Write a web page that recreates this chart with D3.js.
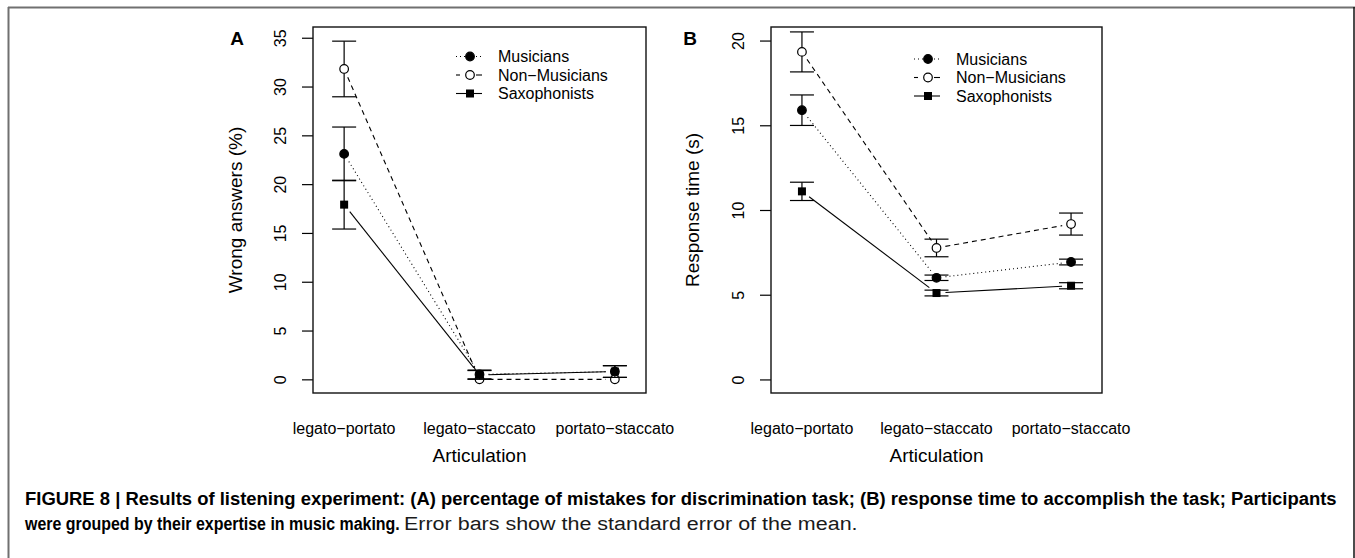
<!DOCTYPE html>
<html>
<head>
<meta charset="utf-8">
<script src="https://cdn.jsdelivr.net/npm/d3@7"></script>
<style>
  body { margin: 0; background: #fff; }
  svg { display: block; }
  text { font-family: "Liberation Sans", Arial, Helvetica, sans-serif; fill: #000; }
</style>
</head>
<body>
<svg id="chart" width="1355" height="558"></svg>
<script>
const categories = ["legato\u2212portato", "legato\u2212staccato", "portato\u2212staccato"]
const groups = ["Musicians", "Non\u2212Musicians", "Saxophonists"]

// panel A: wrong answers (%), mean and standard error
const wrongMusicians = [23.1, 0.5, 0.8]
const wrongMusiciansSE = [2.75, 0.45, 0.6]
const wrongNonMusicians = [31.8, 0, 0]
const wrongNonMusiciansSE = [2.85, 0, 0]
const wrongSaxophonists = [17.9, 0.45, 0.8]
const wrongSaxophonistsSE = [2.5, 0.45, 0.6]
const wrongTicks = [0, 5, 10, 15, 20, 25, 30, 35]

// panel B: response time (s), mean and standard error
const timeMusicians = [15.89, 6.0, 6.93]
const timeMusiciansSE = [0.9, 0.16, 0.17]
const timeNonMusicians = [19.33, 7.76, 9.17]
const timeNonMusiciansSE = [1.18, 0.52, 0.65]
const timeSaxophonists = [11.1, 5.1, 5.53]
const timeSaxophonistsSE = [0.54, 0.17, 0.18]
const timeTicks = [0, 5, 10, 15, 20]

const svg = d3.select("#chart")

// outer figure frame
svg.append("line").attr("x1", 8).attr("x2", 1355).attr("y1", 7.5).attr("y2", 7.5)
  .attr("stroke", "#707070").attr("stroke-width", 2)
svg.append("line").attr("x1", 8.5).attr("x2", 8.5).attr("y1", 7).attr("y2", 558)
  .attr("stroke", "#707070").attr("stroke-width", 2)
svg.append("line").attr("x1", 1354).attr("x2", 1354).attr("y1", 7).attr("y2", 558)
  .attr("stroke", "#111").attr("stroke-width", 1.5)

const styles = {
  "Musicians": { dash: "1,3", marker: "dot" },
  "Non\u2212Musicians": { dash: "5,4", marker: "open" },
  "Saxophonists": { dash: null, marker: "square" }
}

function marker(g, kind, cx, cy) {
  if (kind === "square") {
    g.append("rect").attr("x", cx - 4).attr("y", cy - 4).attr("width", 8).attr("height", 8)
      .attr("fill", "#000")
  } else {
    g.append("circle").attr("cx", cx).attr("cy", cy).attr("r", 4.3)
      .attr("fill", kind === "open" ? "#fff" : "#000")
      .attr("stroke", "#000").attr("stroke-width", 1.2)
  }
}

function panel(opts) {
  const { left, right, top, bottom, yDomain, ticks, series, letter, letterX, yTitle, yTitleX, legendY } = opts
  const g = svg.append("g")

  const x = d3.scaleLinear().domain([0.77, 3.23]).range([left, right])
  const y = d3.scaleLinear().domain(yDomain).range([bottom, top])

  // y axis
  const ax = g.append("g")
    .attr("transform", `translate(${left},0)`)
    .call(d3.axisLeft(y).tickValues(ticks).tickSize(11).tickSizeOuter(0))
  ax.select(".domain").remove()
  ax.selectAll("line").attr("stroke", "#000").attr("stroke-width", 1.2)
  ax.selectAll("text")
    .attr("transform", "rotate(-90)")
    .attr("x", 0).attr("y", -27).attr("dy", 0)
    .attr("text-anchor", "middle")
    .style("font-size", "16px")
    .style("font-family", "'Liberation Sans', Arial, sans-serif")

  // plot box
  g.append("rect").attr("x", left).attr("y", top)
    .attr("width", right - left).attr("height", bottom - top)
    .attr("fill", "none").attr("stroke", "#111").attr("stroke-width", 1.4)

  // category labels
  g.selectAll(".cat").data(categories).join("text")
    .attr("x", (d, i) => x(i + 1)).attr("y", 434)
    .attr("text-anchor", "middle").style("font-size", "16px")
    .text(d => d)

  g.append("text").attr("x", (left + right) / 2).attr("y", 462)
    .attr("text-anchor", "middle").style("font-size", "19px").text("Articulation")

  g.append("text")
    .attr("transform", `translate(${yTitleX},${(top + bottom) / 2}) rotate(-90)`)
    .attr("text-anchor", "middle").style("font-size", "19px").text(yTitle)

  g.append("text").attr("x", letterX).attr("y", 45)
    .attr("text-anchor", "middle").style("font-size", "19px").style("font-weight", "bold")
    .text(letter)

  // series
  series.forEach(s => {
    const st = styles[s.name]
    const pts = s.mean.map((m, i) => [x(i + 1), y(m)])
    const gap = 9
    for (let i = 0; i < pts.length - 1; i++) {
      const [x0, y0] = pts[i], [x1, y1] = pts[i + 1]
      const len = Math.hypot(x1 - x0, y1 - y0)
      const ux = (x1 - x0) / len, uy = (y1 - y0) / len
      g.append("line")
        .attr("x1", x0 + ux * gap).attr("y1", y0 + uy * gap)
        .attr("x2", x1 - ux * gap).attr("y2", y1 - uy * gap)
        .attr("stroke", "#000").attr("stroke-width", 1.1)
        .attr("stroke-dasharray", st.dash)
    }
    s.mean.forEach((m, i) => {
      const cx = x(i + 1)
      const lo = y(m - s.se[i]), hi = y(m + s.se[i])
      if (s.se[i] > 0) {
        g.append("line").attr("x1", cx).attr("x2", cx).attr("y1", lo).attr("y2", hi)
          .attr("stroke", "#000").attr("stroke-width", 1.2)
        ;[lo, hi].forEach(v => g.append("line")
          .attr("x1", cx - 12).attr("x2", cx + 12).attr("y1", v).attr("y2", v)
          .attr("stroke", "#000").attr("stroke-width", 1.2))
      }
    })
    s.mean.forEach((m, i) => marker(g, st.marker, x(i + 1), y(m)))
  })

  // legend
  const lx = left + 143
  groups.forEach((name, i) => {
    const st = styles[name]
    const ly = legendY + i * 18.5
    if (st.marker === "open") {
      g.append("line").attr("x1", lx).attr("x2", lx + 4).attr("y1", ly).attr("y2", ly)
        .attr("stroke", "#000").attr("stroke-width", 1.1)
      g.append("line").attr("x1", lx + 20).attr("x2", lx + 26).attr("y1", ly).attr("y2", ly)
        .attr("stroke", "#000").attr("stroke-width", 1.1)
    } else {
      g.append("line").attr("x1", lx).attr("x2", lx + 26).attr("y1", ly).attr("y2", ly)
        .attr("stroke", "#000").attr("stroke-width", 1.1)
        .attr("stroke-dasharray", st.dash)
    }
    marker(g, st.marker, lx + 14, ly)
    g.append("text").attr("x", lx + 42).attr("y", ly + 5.5)
      .style("font-size", "16px").text(name)
  })
}

panel({
  left: 313, right: 646, top: 27, bottom: 393,
  yDomain: [-1.4, 36.1], ticks: wrongTicks,
  letter: "A", letterX: 237, yTitle: "Wrong answers (%)", yTitleX: 242, legendY: 56.5,
  series: [
    { name: "Musicians", mean: wrongMusicians, se: wrongMusiciansSE },
    { name: "Non\u2212Musicians", mean: wrongNonMusicians, se: wrongNonMusiciansSE },
    { name: "Saxophonists", mean: wrongSaxophonists, se: wrongSaxophonistsSE }
  ]
})

panel({
  left: 771, right: 1102, top: 27, bottom: 393,
  yDomain: [-0.8, 20.8], ticks: timeTicks,
  letter: "B", letterX: 690, yTitle: "Response time (s)", yTitleX: 699, legendY: 59,
  series: [
    { name: "Musicians", mean: timeMusicians, se: timeMusiciansSE },
    { name: "Non\u2212Musicians", mean: timeNonMusicians, se: timeNonMusiciansSE },
    { name: "Saxophonists", mean: timeSaxophonists, se: timeSaxophonistsSE }
  ]
})

// caption: condensed look by squeezing each run horizontally to its width in the figure
function captionRun(str, x0, y0, width, bold) {
  const t = svg.append("text")
    .style("font-family", "'Liberation Sans', Arial, sans-serif")
    .style("font-size", "19px")
    .style("font-weight", bold ? "bold" : "normal")
    .style("fill", bold ? "#000" : "#1a1a1a")
    .text(str)
  const natural = t.node().getComputedTextLength()
  t.attr("transform", `translate(${x0},${y0}) scale(${width / natural},1)`)
}

captionRun("FIGURE 8 | Results of listening experiment: (A) percentage of mistakes for discrimination task; (B) response time to accomplish the task; Participants", 25, 505, 1312, true)
captionRun("were grouped by their expertise in music making.", 25, 530, 375, true)
captionRun("Error bars show the standard error of the mean.", 404, 530, 454, false)
</script>
</body>
</html>
